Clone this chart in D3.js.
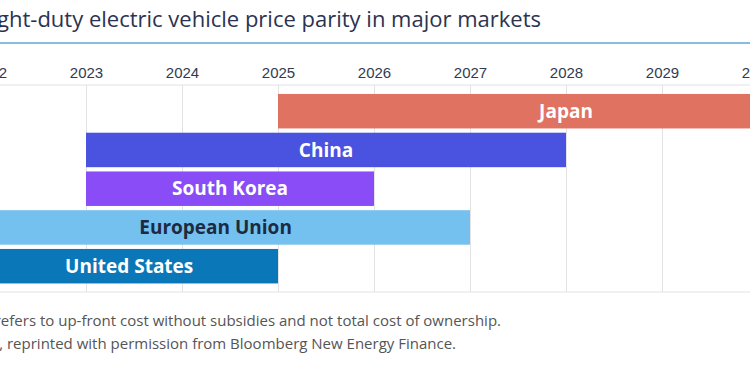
<!DOCTYPE html>
<html lang="en">
    <head>
        <meta charset="utf-8">
        <title>EV price parity</title>
        <script src="https://d3js.org/d3.v7.min.js"></script>
        <style type="text/css">
            body { margin: 0; background: #fff; }
            svg { display: block; font-family: "Open Sans", "Noto Sans", sans-serif; }
            .title { font-size: 22px; fill: #2b3350; }
            .tick text { font-size: 15px; fill: #333a50; }
            .barlabel { font-size: 19px; font-weight: bold; }
            .note { font-size: 15px; fill: #555; }
        </style>
    </head>
    <body>
        <svg width="750" height="375"></svg>
        <script type="text/javascript">

            // markets and the years their bars span
            const markets = ["Japan", "China", "South Korea", "European Union", "United States"];
            const startYear = [2025, 2023, 2023, 2021.7, 2021.9];
            const endYear = [2031, 2028, 2026, 2027, 2025];
            const years = [2022, 2023, 2024, 2025, 2026, 2027, 2028, 2029, 2030];

            const barColor = ["#e07262", "#4953e0", "#8a4cf7", "#74c0ef", "#0a78b8"];
            const textColor = ["#fff", "#fff", "#fff", "#1d2a40", "#fff"];

            const svg = d3.select("svg");
            const w = 750;

            const xScale = d3.scaleLinear()
                             .domain([2022, 2031])
                             .range([-10, 854]);

            const yScale = d3.scaleBand()
                             .domain(markets)
                             .range([89.7, 287.7])
                             .padding(0.11);

            // title and underline
            svg.append("text")
               .attr("class", "title")
               .attr("x", 541)
               .attr("y", 27)
               .attr("text-anchor", "end")
               .text("Light-duty electric vehicle price parity in major markets");

            svg.append("line")
               .attr("x1", 0).attr("x2", w)
               .attr("y1", 43).attr("y2", 43)
               .style("stroke", "#86bde0")
               .style("stroke-width", 2);

            // grid box
            svg.append("line")
               .attr("x1", 0).attr("x2", w)
               .attr("y1", 85).attr("y2", 85)
               .style("stroke", "#e2e2e2");
            svg.append("line")
               .attr("x1", 0).attr("x2", w)
               .attr("y1", 292).attr("y2", 292)
               .style("stroke", "#e2e2e2");

            const axis = d3.axisTop(xScale)
                           .tickValues(years)
                           .tickFormat(d3.format("d"))
                           .tickSize(-207)
                           .tickPadding(8);

            const gx = svg.append("g")
                          .attr("class", "tick-axis")
                          .attr("transform", "translate(0,85)")
                          .call(axis);
            gx.select(".domain").remove();
            gx.selectAll(".tick line").style("stroke", "#e2e2e2");
            gx.selectAll(".tick text").attr("y", -7);

            // bars
            const rows = svg.selectAll(".row")
                            .data(markets)
                            .enter()
                            .append("g")
                            .attr("class", "row");

            rows.append("rect")
                .attr("x", (d, i) => xScale(startYear[i]))
                .attr("y", d => yScale(d))
                .attr("width", (d, i) => xScale(endYear[i]) - xScale(startYear[i]))
                .attr("height", yScale.bandwidth())
                .style("fill", (d, i) => barColor[i]);

            rows.append("text")
                .attr("class", "barlabel")
                .attr("x", (d, i) => (xScale(startYear[i]) + xScale(endYear[i])) / 2)
                .attr("y", d => yScale(d) + yScale.bandwidth() / 2)
                .attr("dy", "0.35em")
                .attr("text-anchor", "middle")
                .style("fill", (d, i) => textColor[i])
                .text(d => d);

            // notes
            svg.append("text")
               .attr("class", "note")
               .attr("x", 501)
               .attr("y", 326)
               .attr("text-anchor", "end")
               .text("Note: Price parity refers to up-front cost without subsidies and not total cost of ownership.");
            svg.append("text")
               .attr("class", "note")
               .attr("x", 456)
               .attr("y", 349)
               .attr("text-anchor", "end")
               .text("Source: BNEF (2022), reprinted with permission from Bloomberg New Energy Finance.");

        </script>
    </body>
</html>
